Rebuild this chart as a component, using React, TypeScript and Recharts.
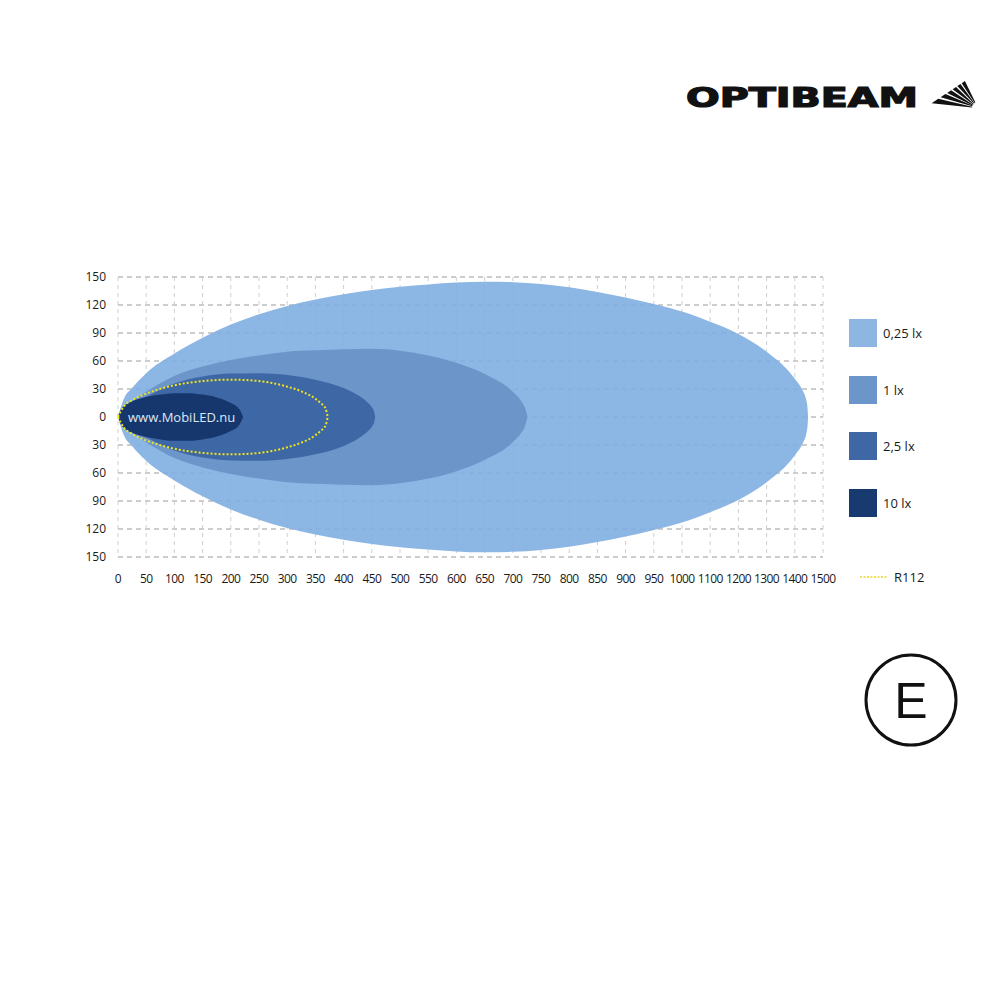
import { Area, CartesianGrid, ComposedChart, XAxis, YAxis } from "recharts";

// distance axis labels (m): 50 m steps to 1000, then 100 m steps
const distanceTicks = [
  0, 50, 100, 150, 200, 250, 300, 350, 400, 450, 500, 550, 600, 650, 700, 750,
  800, 850, 900, 950, 1000, 1100, 1200, 1300, 1400, 1500,
];
const lateralTicks = [-150, -120, -90, -60, -30, 0, 30, 60, 90, 120, 150];

// isolux contours: distance (m) and half width (m) on each side of the axis
const lux025Dist = [0, 10, 25, 50, 100, 150, 200, 250, 300, 350, 400, 450, 500, 550, 600, 650, 700, 750, 800, 850, 900, 950, 1000, 1100, 1200, 1300, 1400, 1430, 1440, 1445, 1447];
const lux025Half = [0, 19, 31, 47, 68, 85, 99, 110, 119, 126, 131.5, 136, 139.5, 142, 144, 145, 144.5, 142.5, 139, 134, 128, 121, 113, 102, 89, 70, 41, 27, 19, 10, 0];

const lux1Dist = [0, 10, 25, 50, 100, 150, 200, 250, 300, 350, 400, 450, 500, 550, 600, 650, 700, 715, 722, 726];
const lux1Half = [0, 10, 17, 27, 44, 54, 61, 66, 70, 71.5, 72.5, 73, 71, 66, 58, 46, 27, 17, 9, 0];

const lux25Dist = [0, 10, 25, 50, 100, 150, 200, 250, 300, 350, 400, 425, 440, 450, 454, 456];
const lux25Half = [0, 9, 15, 22, 36, 43.5, 46.5, 47, 45, 40, 31, 23.5, 17, 10.5, 6, 0];

const lux10Dist = [0, 5, 10, 25, 50, 75, 100, 125, 150, 175, 200, 215, 222];
const lux10Half = [0, 8, 11.5, 17, 21.5, 24, 25.5, 25.5, 24, 21, 15, 8.5, 0];

const r112Dist = [0, 10, 25, 50, 100, 150, 200, 250, 300, 325, 350, 360, 368, 372];
const r112Half = [0, 11, 18, 25, 34, 38.5, 40, 38.5, 32.5, 27.5, 19.5, 14.5, 9, 0];

const legendItems = [
  { label: "0,25 lx", color: "#8db6e3" },
  { label: "1 lx", color: "#6c95ca" },
  { label: "2,5 lx", color: "#3f67a6" },
  { label: "10 lx", color: "#173a70" },
];

// position on the (non-linear) distance axis
const toStep = (m: number) => (m <= 1000 ? m / 50 : 20 + (m - 1000) / 100);
const tickSteps = distanceTicks.map(toStep);

const contours = [
  { key: "lux025", dist: lux025Dist, half: lux025Half },
  { key: "lux1", dist: lux1Dist, half: lux1Half },
  { key: "lux25", dist: lux25Dist, half: lux25Half },
  { key: "lux10", dist: lux10Dist, half: lux10Half },
  { key: "r112", dist: r112Dist, half: r112Half },
];

const steps = Array.from(
  new Set(contours.flatMap((c) => c.dist.map(toStep)))
).sort((a, b) => a - b);

const rows = steps.map((pos) => {
  const row: Record<string, number | number[] | null> = { pos };
  contours.forEach((c) => {
    const i = c.dist.findIndex((d) => toStep(d) === pos);
    row[c.key] = i >= 0 ? [-c.half[i], c.half[i]] : null;
  });
  return row;
});

const yTickStyle = { fill: "#1a1a1a", fontSize: 12, fontFamily: "Open Sans" };
const xTickStyle = { ...yTickStyle, letterSpacing: -0.6 };

// fan of rays next to the wordmark; ray ends sit on a straight edge
function Fan() {
  const ox = 978;
  const oy = 108;
  const ax = 935;
  const ay = 101;
  const bx = 965;
  const by = 81;
  const hit = (a: number) => {
    const dx = Math.cos(a);
    const dy = -Math.sin(a);
    const ex = bx - ax;
    const ey = by - ay;
    const t = ((ax - ox) * ey - (ay - oy) * ex) / (dx * ey - dy * ex);
    return [ox + t * dx, oy + t * dy];
  };
  const wedges = [0, 1, 2, 3, 4, 5].map((i) => {
    const a0 = ((116 + i * 10.2) * Math.PI) / 180;
    const a1 = a0 + (7.2 * Math.PI) / 180;
    const r0 = 6;
    const p0 = [ox + r0 * Math.cos(a0), oy - r0 * Math.sin(a0)];
    const p1 = hit(a0);
    const p2 = hit(a1);
    const p3 = [ox + r0 * Math.cos(a1), oy - r0 * Math.sin(a1)];
    const pts = [p0, p1, p2, p3].map((p) => p.map((v) => v.toFixed(1)).join(",")).join(" ");
    return <polygon key={i} points={pts} fill="#111" />;
  });
  return <g>{wedges}</g>;
}

function Logo() {
  return (
    <svg width={1000} height={140} style={{ position: "absolute", left: 0, top: 0 }}>
      <text
        x={686}
        y={107}
        fontFamily="DejaVu Sans"
        fontWeight="bold"
        fontSize={26}
        textLength={232}
        lengthAdjust="spacingAndGlyphs"
        fill="#111"
        stroke="#111"
        strokeWidth={1.2}
      >
        OPTIBEAM
      </text>
      <Fan />
    </svg>
  );
}

export default function App() {
  return (
    <div
      style={{
        position: "absolute",
        left: 0,
        top: 0,
        width: 1000,
        height: 1000,
        background: "#fff",
        fontFamily: "Open Sans",
      }}
    >
      <Logo />
      <ComposedChart
        width={1000}
        height={1000}
        data={rows}
        margin={{ top: 277, right: 177, bottom: 413, left: 0 }}
      >
        <CartesianGrid vertical={false} stroke="#9a9a9a" strokeDasharray="5 4" />
        <CartesianGrid horizontal={false} stroke="#cfcfcf" strokeDasharray="4 4" />
        <XAxis
          type="number"
          dataKey="pos"
          domain={[0, 25]}
          ticks={tickSteps}
          interval={0}
          tickFormatter={(v: number) => String(distanceTicks[tickSteps.indexOf(v)])}
          axisLine={false}
          tickLine={false}
          tickMargin={11}
          tick={xTickStyle}
        />
        <YAxis
          type="number"
          domain={[-150, 150]}
          ticks={lateralTicks}
          interval={0}
          width={118}
          tickFormatter={(v: number) => String(Math.abs(v))}
          axisLine={false}
          tickLine={false}
          tickMargin={6}
          tick={yTickStyle}
        />
        <Area dataKey="lux025" type="monotone" connectNulls stroke="none" fill="#80aee0" fillOpacity={0.9} isAnimationActive={false} />
        <Area dataKey="lux1" type="monotone" connectNulls stroke="none" fill="#6891c7" fillOpacity={0.9} isAnimationActive={false} />
        <Area dataKey="lux25" type="monotone" connectNulls stroke="none" fill="#3a62a2" fillOpacity={0.9} isAnimationActive={false} />
        <Area dataKey="lux10" type="monotone" connectNulls stroke="none" fill="#13356a" fillOpacity={0.95} isAnimationActive={false} />
        <Area
          dataKey="r112"
          type="monotone"
          connectNulls
          fill="none"
          stroke="#f0e41c"
          strokeWidth={2}
          strokeDasharray="2 2"
          isAnimationActive={false}
        />
      </ComposedChart>

      <div
        style={{
          position: "absolute",
          left: 128,
          top: 408,
          fontSize: 13,
          color: "#dfe6f1",
          lineHeight: "18px",
          whiteSpace: "nowrap",
        }}
      >
        www.MobiLED.nu
      </div>

      {legendItems.map((item, i) => (
        <div
          key={item.label}
          style={{
            position: "absolute",
            left: 849,
            top: 319 + i * 56.5,
            display: "flex",
            alignItems: "center",
            height: 28,
          }}
        >
          <div style={{ width: 28, height: 28, background: item.color }} />
          <span style={{ marginLeft: 6, fontSize: 13, color: "#1a1a1a" }}>{item.label}</span>
        </div>
      ))}
      <div
        style={{
          position: "absolute",
          left: 860,
          top: 568,
          display: "flex",
          alignItems: "center",
          height: 18,
        }}
      >
        <svg width={28} height={4}>
          <line x1={0} y1={2} x2={28} y2={2} stroke="#e8d820" strokeWidth={1.5} strokeDasharray="2 1.5" />
        </svg>
        <span style={{ marginLeft: 6, fontSize: 13, color: "#1a1a1a" }}>R112</span>
      </div>

      <svg width={1000} height={1000} style={{ position: "absolute", left: 0, top: 0, pointerEvents: "none" }}>
        <circle cx={911} cy={700} r={45} fill="none" stroke="#111" strokeWidth={3} />
        <text x={911} y={718} textAnchor="middle" fontFamily="Liberation Sans" fontSize={50} fill="#111">
          E
        </text>
      </svg>
    </div>
  );
}
